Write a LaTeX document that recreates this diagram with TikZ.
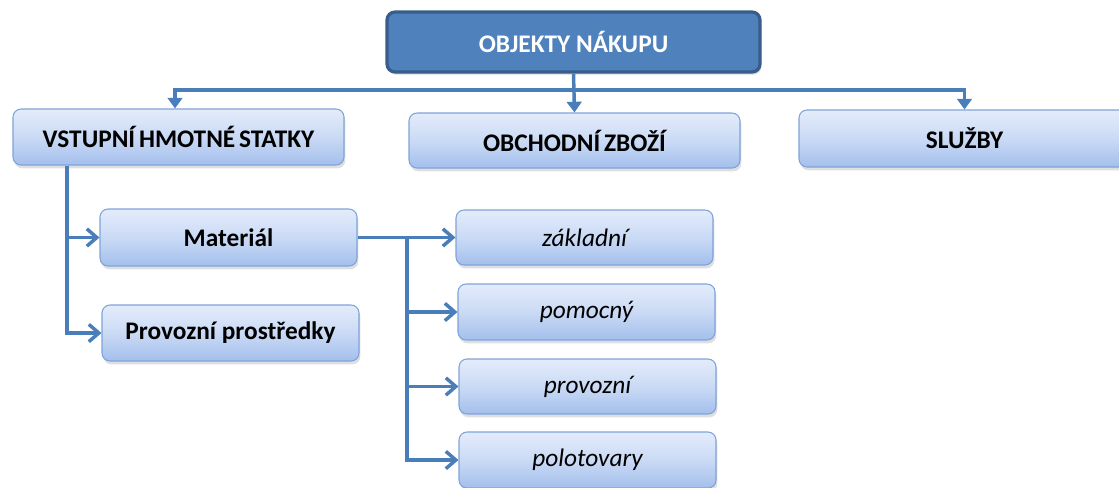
\documentclass[tikz,border=0pt]{standalone}
\usepackage{fontspec}
\setmainfont{Carlito}
\usetikzlibrary{arrows.meta,shadows,calc}
\definecolor{linec}{HTML}{4A7EBB}
\definecolor{topfill}{HTML}{4F81BD}
\definecolor{topdraw}{HTML}{385D8A}
\definecolor{lighttop}{HTML}{E4ECFB}
\definecolor{lightbot}{HTML}{A3BFEC}
\definecolor{lightdraw}{HTML}{7FA3D9}
\tikzset{
  topbox/.style={rectangle, rounded corners=6pt, fill=topfill, draw=topdraw, line width=2.4pt,
    text=white, font=\fontsize{19}{22}\selectfont\bfseries,
    drop shadow={shadow xshift=1pt, shadow yshift=-2pt, opacity=0.3}},
  lbox/.style={rectangle, rounded corners=6pt, top color=lighttop, bottom color=lightbot,
    middle color=lighttop!60!lightbot, draw=lightdraw, line width=0.8pt,
    font=\fontsize{19}{22}\selectfont\bfseries, text=black,
    drop shadow={shadow xshift=1pt, shadow yshift=-2.5pt, opacity=0.25}},
  ibox/.style={lbox, font=\fontsize{19}{22}\selectfont\itshape},
  conn/.style={draw=linec, line width=2.6pt},
  tri/.style={conn, -{Triangle[width=11pt,length=8pt]}},
  bitri/.style={conn, {Triangle[width=11pt,length=8pt]}-{Triangle[width=11pt,length=8pt]}},
  barb/.style={conn, -{Straight Barb[length=7.5pt,width=13pt,line width=2.6pt]}},
}
\begin{document}
\begin{tikzpicture}[x=0.75pt,y=-0.75pt]
\useasboundingbox (0,0) rectangle (1119,487);
\node[topbox, minimum width=279.75pt, minimum height=45pt] (top) at (573.5,42) {OBJEKTY NÁKUPU};
\node[lbox, minimum width=248.25pt, minimum height=42pt] (vst) at (178.5,137) {\spaceskip=0.15em VSTUPNÍ HMOTNÉ STATKY};
\node[lbox, minimum width=248.25pt, minimum height=41.25pt] (obch) at (574.5,140.5) {\spaceskip=0.15em OBCHODNÍ ZBOŽÍ};
\node[lbox, minimum width=248.25pt, minimum height=42.75pt] (slu) at (964.5,138.5) {SLUŽBY};
\node[lbox, minimum width=192.75pt, minimum height=42.75pt] (mat) at (228.5,237.5) {Materiál};
\node[lbox, minimum width=192.75pt, minimum height=42pt] (prov) at (230.5,333) {Provozní prostředky};
\node[ibox, minimum width=192.75pt, minimum height=41.25pt] (zak) at (584.5,237.5) {základní};
\node[ibox, minimum width=192.75pt, minimum height=42pt] (pom) at (586.5,312) {pomocný};
\node[ibox, minimum width=192.75pt, minimum height=41.25pt] (pvz) at (587.5,386.5) {provozní};
\node[ibox, minimum width=192.75pt, minimum height=42pt] (pol) at (587.5,460) {polotovary};
\coordinate (bus) at (573,90);
\coordinate (vx) at (67,0);
\coordinate (jx) at (407,0);
\draw[tri] (top.south) -- (obch.north);
\draw[bitri] ($(vst.north)+(-3.5,0)$) -- ($(vst.north |- bus)+(-3.5,0)$) -| (slu.north);
\draw[barb] (vst.south -| vx) |- (mat.west);
\draw[barb] (vst.south -| vx) |- (prov.west);
\draw[barb] (mat.east) -- (zak.west);
\draw[barb] (mat.east -| jx) |- (pom.west);
\draw[barb] (mat.east -| jx) |- (pvz.west);
\draw[barb] (mat.east -| jx) |- (pol.west);
\end{tikzpicture}
\end{document}
